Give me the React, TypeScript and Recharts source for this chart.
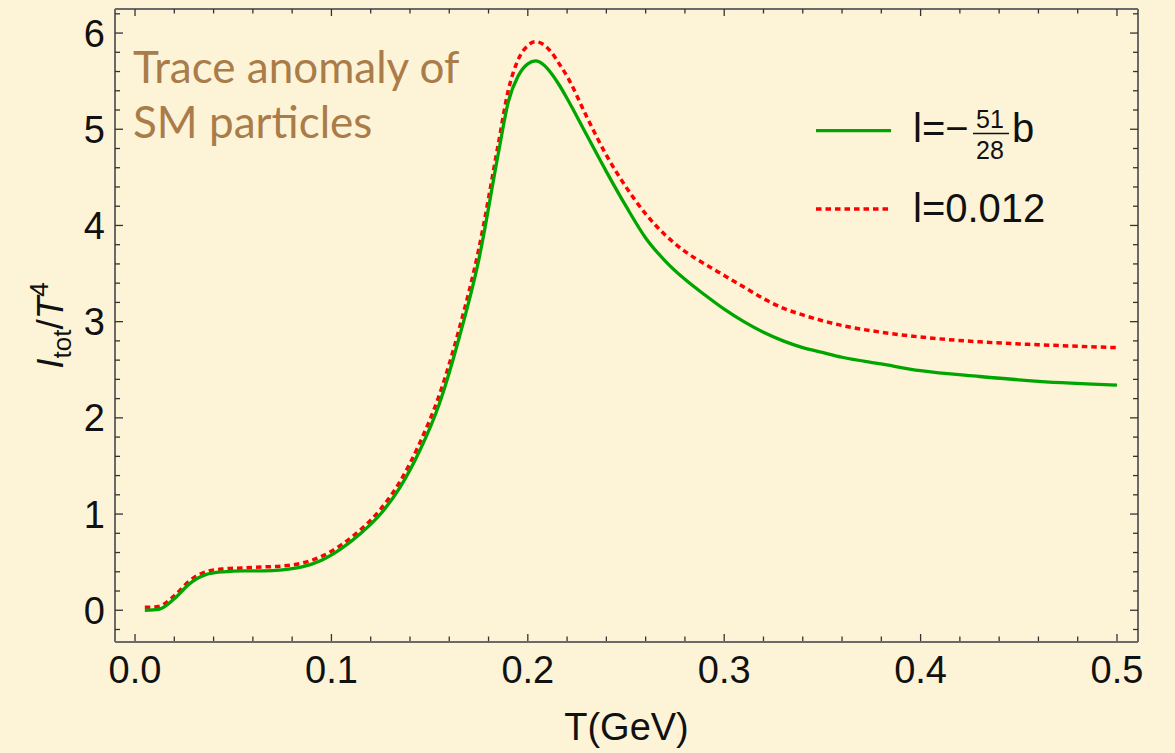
import React from "react";
import { LineChart, Line, XAxis, YAxis, Legend, Label } from "recharts";

// T in GeV
const temps = [
  0.005, 0.012, 0.02, 0.028, 0.036, 0.045, 0.055, 0.065, 0.075, 0.085, 0.095,
  0.105, 0.115, 0.125, 0.135, 0.145, 0.155, 0.165, 0.175, 0.185, 0.19, 0.195,
  0.2, 0.204, 0.208, 0.212, 0.216, 0.22, 0.23, 0.24, 0.25, 0.26, 0.27, 0.28,
  0.29, 0.3, 0.31, 0.32, 0.33, 0.34, 0.35, 0.36, 0.38, 0.4, 0.43, 0.46, 0.5,
];

// l = -51/28 b
const traceBeta = [
  0.0, 0.01, 0.12, 0.28, 0.37, 0.4, 0.41, 0.41, 0.42, 0.45, 0.52,
  0.64, 0.8, 1.0, 1.28, 1.66, 2.15, 2.83, 3.64, 4.75, 5.28, 5.55,
  5.68, 5.71, 5.67, 5.58, 5.46, 5.32, 4.94, 4.56, 4.2, 3.87, 3.63, 3.44,
  3.28, 3.13, 3.0, 2.89, 2.8, 2.73, 2.68, 2.63, 2.56, 2.49, 2.43, 2.38, 2.34,
];

// l = 0.012
const traceFixed = [
  0.03, 0.04, 0.15, 0.31, 0.4, 0.43, 0.44, 0.45, 0.46, 0.49, 0.56,
  0.68, 0.84, 1.05, 1.34, 1.74, 2.24, 2.92, 3.75, 4.85, 5.4, 5.72,
  5.87, 5.91, 5.88, 5.8, 5.68, 5.55, 5.13, 4.73, 4.4, 4.12, 3.9, 3.73,
  3.6, 3.48, 3.36, 3.24, 3.14, 3.07, 3.01, 2.96, 2.89, 2.84, 2.79, 2.76, 2.73,
];

const xTicks = Array.from({ length: 26 }, (_, i) => i * 0.02);
const yTicks = Array.from({ length: 33 }, (_, i) => -0.2 + i * 0.2);

const data = temps.map((t, i) => ({ t, beta: traceBeta[i], fixed: traceFixed[i] }));

const BG = "#FDF4D7";
const FRAME = "#6a6a6a";
const TICK = "#333";
const FONT = "'Liberation Sans', Arial, sans-serif";

const isMajor = (v: number) => Math.abs(v - Math.round(v)) < 1e-6;

function BottomTick({ x, y, payload }: any) {
  const major = isMajor(payload.value * 10);
  const y0 = y - 1;
  return (
    <g>
      <line x1={x} x2={x} y1={y0} y2={y0 - (major ? 7 : 4.5)} stroke={TICK} strokeWidth={1.3} />
      {major && (
        <text x={x} y={y0 + 42} textAnchor="middle" fontSize={38} fontFamily={FONT} fill="#111">
          {payload.value.toFixed(1)}
        </text>
      )}
    </g>
  );
}

function TopTick({ x, y, payload }: any) {
  const major = isMajor(payload.value * 10);
  return <line x1={x} x2={x} y1={y} y2={y + (major ? 7 : 4.5)} stroke={TICK} strokeWidth={1.3} />;
}

function LeftTick({ x, y, payload }: any) {
  const major = isMajor(payload.value);
  return (
    <g>
      <line x1={x} x2={x + (major ? 8 : 5)} y1={y} y2={y} stroke={TICK} strokeWidth={1.3} />
      {major && (
        <text x={x - 10} y={y + 13.5} textAnchor="end" fontSize={38} fontFamily={FONT} fill="#111">
          {Math.round(payload.value)}
        </text>
      )}
    </g>
  );
}

function RightTick({ x, y, payload }: any) {
  const major = isMajor(payload.value);
  return <line x1={x} x2={x - (major ? 8 : 5)} y1={y} y2={y} stroke={TICK} strokeWidth={1.3} />;
}

function YTitle({ viewBox }: any) {
  const cx = 63;
  const cy = viewBox.y + viewBox.height / 2;
  return (
    <text
      transform={`rotate(-90 ${cx} ${cy})`}
      x={cx}
      y={cy}
      textAnchor="middle"
      fontSize={37}
      fontFamily={FONT}
      fill="#111"
    >
      <tspan fontStyle="italic">I</tspan>
      <tspan fontSize={26} dy={8}>tot</tspan>
      <tspan dy={-8}>/</tspan>
      <tspan fontStyle="italic">T</tspan>
      <tspan fontSize={26} dy={-15}>4</tspan>
    </text>
  );
}

function XTitle({ viewBox }: any) {
  return (
    <text
      x={viewBox.x + viewBox.width / 2}
      y={740}
      textAnchor="middle"
      fontSize={38}
      fontFamily={FONT}
      fill="#111"
    >
      T(GeV)
    </text>
  );
}

function LegendBox({ payload }: any) {
  const items = payload || [];
  const green = items.find((p: any) => p.dataKey === "beta");
  const red = items.find((p: any) => p.dataKey === "fixed");
  return (
    <svg width={330} height={140} style={{ display: "block", overflow: "visible" }}>
      <line x1={11} x2={86} y1={35.7} y2={35.7} stroke={green?.color} strokeWidth={3.3} />
      <text x={108} y={46.7} fontSize={40} fontFamily={FONT} fill="#111">
        l=−
      </text>
      <text x={185} y={33} textAnchor="middle" fontSize={25} fontFamily={FONT} fill="#111">
        51
      </text>
      <line x1={168} x2={204} y1={38.5} y2={38.5} stroke="#111" strokeWidth={1.6} />
      <text x={185} y={64} textAnchor="middle" fontSize={25} fontFamily={FONT} fill="#111">
        28
      </text>
      <text x={207} y={46.7} fontSize={40} fontFamily={FONT} fill="#111">
        b
      </text>
      <line
        x1={11}
        x2={85}
        y1={114}
        y2={114}
        stroke={red?.color}
        strokeWidth={3.5}
        strokeDasharray="5.5 4"
      />
      <text x={108} y={126.7} fontSize={40} fontFamily={FONT} fill="#111">
        l=0.012
      </text>
    </svg>
  );
}

export default function App() {
  return (
    <div style={{ position: "absolute", left: 0, top: 0, width: 1175, height: 753, background: BG }}>
      <LineChart
        width={1175}
        height={753}
        data={data}
        margin={{ top: 8, right: 36, bottom: 110, left: 114 }}
      >
        <XAxis
          xAxisId="b"
          dataKey="t"
          type="number"
          domain={[-0.0102, 0.5107]}
          allowDataOverflow
          ticks={xTicks}
          interval={0}
          height={1}
          tickSize={0}
          tickMargin={0}
          tick={<BottomTick />}
          tickLine={false}
          axisLine={{ stroke: FRAME, strokeWidth: 2 }}
        >
          <Label content={<XTitle />} />
        </XAxis>
        <XAxis
          xAxisId="t"
          orientation="top"
          dataKey="t"
          type="number"
          domain={[-0.0102, 0.5107]}
          allowDataOverflow
          ticks={xTicks}
          interval={0}
          height={1}
          tickSize={0}
          tickMargin={0}
          tick={<TopTick />}
          tickLine={false}
          axisLine={{ stroke: FRAME, strokeWidth: 2 }}
        />
        <YAxis
          yAxisId="l"
          type="number"
          domain={[-0.33, 6.25]}
          allowDataOverflow
          ticks={yTicks}
          interval={0}
          width={1}
          tickSize={0}
          tickMargin={0}
          tick={<LeftTick />}
          tickLine={false}
          axisLine={{ stroke: FRAME, strokeWidth: 2 }}
        >
          <Label content={<YTitle />} />
        </YAxis>
        <YAxis
          yAxisId="r"
          orientation="right"
          type="number"
          domain={[-0.33, 6.25]}
          allowDataOverflow
          ticks={yTicks}
          interval={0}
          width={1}
          tickSize={0}
          tickMargin={0}
          tick={<RightTick />}
          tickLine={false}
          axisLine={{ stroke: FRAME, strokeWidth: 2 }}
        />
        <Legend
          layout="horizontal"
          align="center"
          verticalAlign="middle"
          content={<LegendBox />}
          wrapperStyle={{ left: 805, top: 95, width: 330, height: 140 }}
        />
        <Line
          xAxisId="b"
          yAxisId="l"
          dataKey="fixed"
          name="l=0.012"
          type="monotone"
          stroke="#FF0000"
          strokeWidth={3.5}
          strokeDasharray="5.5 4"
          dot={false}
          isAnimationActive={false}
        />
        <Line
          xAxisId="b"
          yAxisId="l"
          dataKey="beta"
          name="l=-51/28 b"
          type="monotone"
          stroke="#00A600"
          strokeWidth={3.3}
          dot={false}
          isAnimationActive={false}
        />
        <text x={133} y={82.7} fontSize={44} fontFamily="Lato, 'Open Sans', sans-serif" fill="#A97C4A">
          Trace anomaly of
        </text>
        <text x={133} y={138.3} fontSize={44} fontFamily="Lato, 'Open Sans', sans-serif" fill="#A97C4A">
          SM particles
        </text>
      </LineChart>
    </div>
  );
}
